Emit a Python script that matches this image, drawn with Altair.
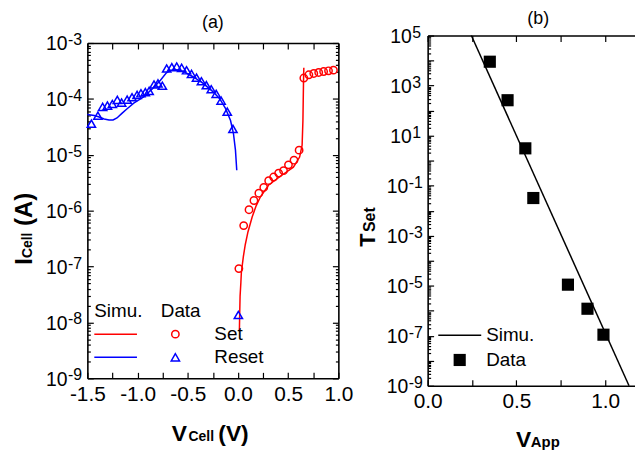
import altair as alt
import pandas as pd

FONT = "Liberation Sans"
BLUE = "#0000ff"
RED = "#ff0000"

# ---------------- panel (a) data ----------------
reset_v = [-1.46, -1.395, -1.348, -1.30, -1.251, -1.202, -1.159, -1.104, -1.055, -1.005,
           -0.966, -0.923, -0.885, -0.836, -0.797, -0.753, -0.710, -0.659, -0.610, -0.561,
           -0.512, -0.463, -0.413, -0.364, -0.315, -0.266, -0.217, -0.168, -0.107, -0.050, 0.004]
reset_i = [3.6e-5, 5.0e-5, 7.2e-5, 7.6e-5, 8.1e-5, 9.6e-5, 8.6e-5, 9.7e-5, 1.07e-4, 1.18e-4,
           1.26e-4, 1.32e-4, 1.39e-4, 1.81e-4, 1.89e-4, 1.72e-4, 3.5e-4, 3.7e-4, 3.8e-4, 3.6e-4,
           3.25e-4, 2.8e-4, 2.4e-4, 2.07e-4, 1.76e-4, 1.49e-4, 1.23e-4, 9.3e-5, 5.9e-5, 2.9e-5, 1.36e-8]
set_v = [0.009, 0.057, 0.110, 0.159, 0.208, 0.257, 0.306, 0.355, 0.405, 0.454,
         0.503, 0.558, 0.609, 0.656, 0.706, 0.755, 0.804, 0.853, 0.902, 0.951]
set_i = [9.2e-8, 5.4e-7, 1.04e-6, 1.52e-6, 2.05e-6, 2.6e-6, 3.44e-6, 4.0e-6, 4.7e-6, 5.2e-6,
         6.6e-6, 8.0e-6, 1.21e-5, 2.36e-4, 2.7e-4, 2.85e-4, 2.97e-4, 3.09e-4, 3.18e-4, 3.27e-4]
reset_sim_v = [-1.500, -1.431, -1.382, -1.333, -1.284, -1.244, -1.205, -1.156, -1.107, -1.038,
               -0.940, -0.841, -0.772, -0.713, -0.674, -0.615, -0.546, -0.448, -0.350, -0.250,
               -0.182, -0.123, -0.074, -0.045, -0.025, -0.012]
reset_sim_i = [5.26e-5, 5.05e-5, 4.75e-5, 4.38e-5, 4.2e-5, 4.2e-5, 4.56e-5, 5.5e-5, 6.6e-5, 8.4e-5,
               1.08e-4, 1.59e-4, 2.16e-4, 2.93e-4, 3.25e-4, 3.3e-4, 3.12e-4, 2.49e-4, 1.91e-4, 1.35e-4,
               1.01e-4, 6.7e-5, 4.1e-5, 2.4e-5, 1.21e-5, 5.3e-6]
set_sim_v = [0.0142, 0.0172, 0.0211, 0.029, 0.034, 0.054, 0.073, 0.100, 0.142, 0.181,
             0.224, 0.306, 0.437, 0.552, 0.614, 0.639, 0.647, 0.650, 0.653, 0.656]
set_sim_i = [7.1e-9, 1.42e-8, 2.96e-8, 5.2e-8, 7.9e-8, 1.52e-7, 2.48e-7, 4.2e-7, 7.8e-7, 1.22e-6,
             1.77e-6, 2.88e-6, 4.3e-6, 6.0e-6, 9.1e-6, 1.48e-5, 4.1e-5, 9.3e-5, 2.1e-4, 3.6e-4]

# ---------------- panel (b) data ----------------
tset_v = [0.35, 0.45, 0.55, 0.595, 0.79, 0.9, 0.99]
tset_t = [9.0e3, 2.6e2, 3.1, 3.2e-2, 1.1e-5, 1.2e-6, 1.1e-7]
tsim_v = [0.246, 1.134]
tsim_t = [1e5, 1e-9]

# ---------------- ticks ----------------
a_xticks = [-1.5, -1.25, -1.0, -0.75, -0.5, -0.25, 0.0, 0.25, 0.5, 0.75, 1.0]
a_xlabels = [-1.5, -1.0, -0.5, 0.0, 0.5, 1.0]
a_exps = [-9, -8, -7, -6, -5, -4, -3]
b_xticks = [0.0, 0.25, 0.5, 0.75, 1.0]
b_xlabels = [0.0, 0.5, 1.0]
b_exps = [-9, -8, -7, -6, -5, -4, -3, -2, -1, 0, 1, 2, 3, 4, 5]
b_label_exps_pos = [5, 3, 1]
b_label_exps_neg = [-1, -3, -5, -7, -9]
minor_k = [2, 3, 4, 5, 6, 7, 8, 9]

a_major = [10.0 ** e for e in a_exps]
a_minor = [k * 10.0 ** e for e in a_exps[:-1] for k in minor_k]
b_major = [10.0 ** e for e in b_exps]
b_minor = [k * 10.0 ** e for e in b_exps[:-1] for k in minor_k]

W_A, H_A = 253, 338
W_B, H_B = 209, 353
XB_MAX = 1.1676

LABEL_EXPR = "(datum.value < 0 ? '-' : '') + format(abs(datum.value), '.1f')"
BASE_FS = 19.5
EXP_FS = 16


def tick_axis(orient, values, size, offset, domain=False):
    return alt.Axis(orient=orient, values=values, offset=offset, labels=False, ticks=True,
                    tickSize=size, tickWidth=1.2, tickColor="black", domain=domain,
                    domainColor="black", domainWidth=1.6, title=None, grid=False)


def label_axis(values):
    return alt.Axis(orient="bottom", values=values, labels=True, ticks=False, tickSize=0,
                    domain=True, domainColor="black", domainWidth=1.6, labelExpr=LABEL_EXPR,
                    labelFont=FONT, labelFontSize=21, labelColor="black", labelPadding=5,
                    labelFlush=False, labelOverlap=False, title=None, grid=False)


ONE = pd.DataFrame({"z": [0]})


def txt(t, x, y, size, bold=False, align="left", baseline="alphabetic", angle=0):
    kw = dict(text=t, font=FONT, fontSize=size, align=align, baseline=baseline,
              color="black", fontWeight="bold" if bold else "normal")
    if angle:
        kw["angle"] = angle
    return alt.Chart(ONE).mark_text(**kw).encode(x=alt.value(x), y=alt.value(y))


def lrule(x1, x2, y, color):
    return alt.Chart(ONE).mark_rule(color=color, strokeWidth=1.6).encode(
        x=alt.value(x1), x2=alt.value(x2), y=alt.value(y))


def lpoint(x, y, shape, color, size, filled=False):
    return alt.Chart(ONE).mark_point(shape=shape, color=color, size=size, filled=filled,
                                     strokeWidth=1.5, opacity=1).encode(x=alt.value(x), y=alt.value(y))


# ================= panel (a) =================
xA = alt.Scale(domain=[-1.5, 1.0], nice=False, zero=False)
yA = alt.Scale(type="log", domain=[1e-9, 1e-3], nice=False)

df_rsim = pd.DataFrame({"v": reset_sim_v, "i": reset_sim_i})
df_ssim = pd.DataFrame({"v": set_sim_v, "i": set_sim_i})
df_reset = pd.DataFrame({"v": reset_v, "i": reset_i})
df_set = pd.DataFrame({"v": set_v, "i": set_i})
df_alab = pd.DataFrame({"val": [10.0 ** e for e in a_exps], "e": [str(e) for e in a_exps]})

a_blue = alt.Chart(df_rsim).mark_line(color=BLUE, strokeWidth=1.5).encode(
    x=alt.X("v:Q", scale=xA, axis=label_axis(a_xlabels)),
    y=alt.Y("i:Q", scale=yA, axis=tick_axis("right", a_major, 6, -W_A, domain=True)))
a_red = alt.Chart(df_ssim).mark_line(color=RED, strokeWidth=1.5).encode(
    x=alt.X("v:Q", scale=xA, axis=tick_axis("top", a_xticks, 6, -H_A)),
    y=alt.Y("i:Q", scale=yA, axis=tick_axis("right", a_minor, 3, -W_A)))
a_tri = alt.Chart(df_reset).mark_point(shape="triangle-up", color=BLUE, size=70, filled=False,
                                       strokeWidth=1.5, opacity=1).encode(
    x=alt.X("v:Q", scale=xA, axis=tick_axis("bottom", a_xticks, 6, -H_A, domain=True)),
    y=alt.Y("i:Q", scale=yA, axis=tick_axis("left", a_major, 6, -W_A, domain=True)))
a_circ = alt.Chart(df_set).mark_point(shape="circle", color=RED, size=55, filled=False,
                                      strokeWidth=1.5, opacity=1).encode(
    x=alt.X("v:Q", scale=xA, axis=None),
    y=alt.Y("i:Q", scale=yA, axis=tick_axis("left", a_minor, 3, -W_A)))
a_l10 = alt.Chart(df_alab).mark_text(text="10", font=FONT, fontSize=BASE_FS, align="right",
                                     baseline="middle", dy=1.5, color="black").encode(
    x=alt.value(-20), y=alt.Y("val:Q", scale=yA, axis=None))
a_lexp = alt.Chart(df_alab).mark_text(font=FONT, fontSize=EXP_FS, align="left",
                                      baseline="middle", dy=-3, color="black").encode(
    x=alt.value(-19.5), y=alt.Y("val:Q", scale=yA, axis=None), text="e:N")

a_texts = [
    txt("(a)", W_A / 2, -29.5, 18, align="center", baseline="top"),
    # y title
    txt("I", -56, 223.5, 24, bold=True, angle=270),
    txt("Cell", -56, 216.8, 14, bold=True, angle=270),
    txt("(A)", -56, 184.4, 24, bold=True, angle=270),
    # x title
    txt("V", 85, 401, 23, bold=True),
    txt("Cell", 102, 401, 14, bold=True),
    txt("(V)", 132, 401, 23, bold=True),
    # legend
    txt("Simu.", 7, 270.2, 19, baseline="middle"),
    txt("Data", 74, 270.2, 19, baseline="middle"),
    txt("Set", 128, 293.5, 19, baseline="middle"),
    txt("Reset", 128, 316.8, 19, baseline="middle"),
    lrule(7, 50, 293.5, RED),
    lrule(7, 50, 316.8, BLUE),
    lpoint(88.7, 293.5, "circle", RED, 55),
    lpoint(88.7, 316.8, "triangle-up", BLUE, 70),
]

panel_a = alt.layer(a_blue, a_red, a_tri, a_circ, a_l10, a_lexp, *a_texts).resolve_axis(
    x="independent", y="independent").properties(width=W_A, height=H_A)

# ================= panel (b) =================
xB = alt.Scale(domain=[0.0, XB_MAX], nice=False, zero=False)
yB = alt.Scale(type="log", domain=[1e-9, 1e5], nice=False)

df_tsim = pd.DataFrame({"v": tsim_v, "t": tsim_t})
df_tset = pd.DataFrame({"v": tset_v, "t": tset_t})
df_blab_p = pd.DataFrame({"val": [10.0 ** e for e in b_label_exps_pos], "e": [str(e) for e in b_label_exps_pos]})
df_blab_n = pd.DataFrame({"val": [10.0 ** e for e in b_label_exps_neg], "e": [str(e) for e in b_label_exps_neg]})

b_line = alt.Chart(df_tsim).mark_line(color="black", strokeWidth=1.5).encode(
    x=alt.X("v:Q", scale=xB, axis=label_axis(b_xlabels)),
    y=alt.Y("t:Q", scale=yB, axis=tick_axis("right", b_major, 6, -W_B, domain=True)))
b_sq = alt.Chart(df_tset).mark_point(shape="square", color="black", size=150, filled=True,
                                     opacity=1).encode(
    x=alt.X("v:Q", scale=xB, axis=tick_axis("top", b_xticks, 6, -H_B)),
    y=alt.Y("t:Q", scale=yB, axis=tick_axis("right", b_minor, 3, -W_B)))
b_dummy = alt.Chart(df_tsim).mark_line(opacity=0).encode(
    x=alt.X("v:Q", scale=xB, axis=tick_axis("bottom", b_xticks, 6, -H_B, domain=True)),
    y=alt.Y("t:Q", scale=yB, axis=None))


def b_labels(df, xr):
    base = alt.Chart(df).mark_text(text="10", font=FONT, fontSize=BASE_FS, align="right",
                                   baseline="middle", dy=1.5, color="black").encode(
        x=alt.value(xr), y=alt.Y("val:Q", scale=yB, axis=None))
    exp = alt.Chart(df).mark_text(font=FONT, fontSize=EXP_FS, align="left",
                                  baseline="middle", dy=-3, color="black").encode(
        x=alt.value(xr + 0.5), y=alt.Y("val:Q", scale=yB, axis=None), text="e:N")
    return [base, exp]


b_texts = [
    txt("(b)", 111.5, -26, 18, align="center", baseline="top"),
    txt("T", -53, 213, 22, bold=True, angle=270),
    txt("Set", -53, 198, 16, bold=True, angle=270),
    txt("V", 89, 415, 23, bold=True),
    txt("App", 104, 415, 15, bold=True),
    lrule(10.7, 54, 302, "black"),
    txt("Simu.", 59, 302, 19, baseline="middle"),
    lpoint(32.3, 327, "square", "black", 150, filled=True),
    txt("Data", 59, 327, 19, baseline="middle"),
]

panel_b = alt.layer(b_line, b_sq, b_dummy, *b_labels(df_blab_p, -16), *b_labels(df_blab_n, -19.5),
                    *b_texts).resolve_axis(x="independent", y="independent").properties(
    width=W_B, height=H_B)

chart = alt.hconcat(panel_a, panel_b, spacing=90, bounds="flush", center=True).properties(
    padding={"left": 5, "top": 0, "right": 0, "bottom": 0}
).configure_view(stroke=None).configure_axis(grid=False)

chart.save("out.html", embed_options={"renderer": "svg", "actions": False})
